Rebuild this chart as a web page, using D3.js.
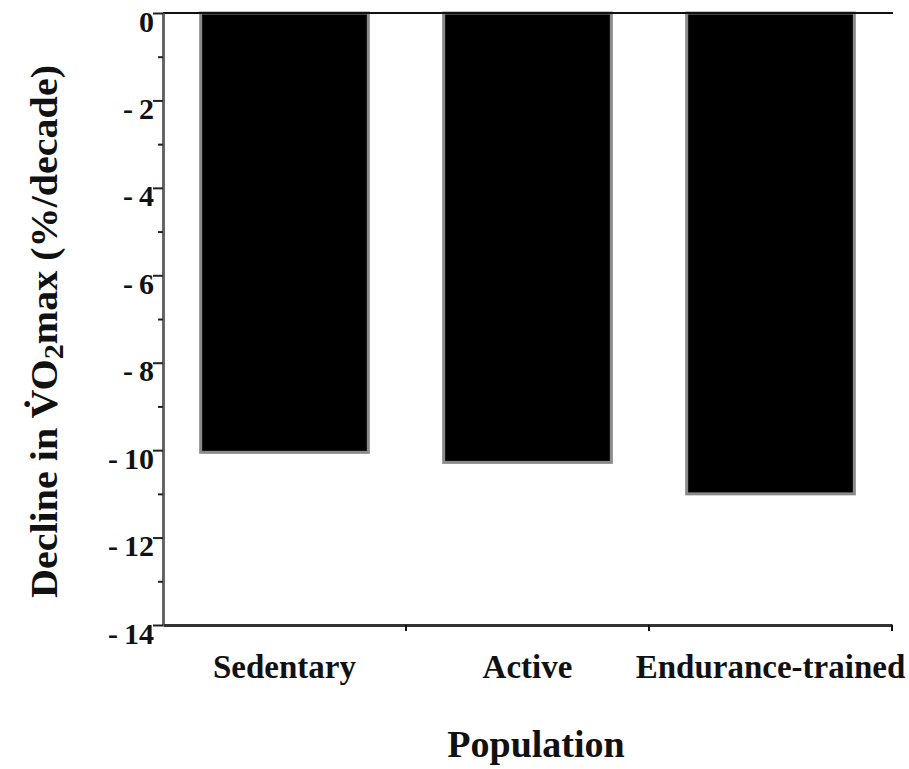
<!DOCTYPE html>
<meta charset="utf-8">
<style>
    body { margin: 0; background: #fff; }
    text { font-family: "Liberation Serif", "Times New Roman", serif; font-weight: bold; }
</style>
<body></body>
<script src="https://d3js.org/d3.v7.min.js"></script>
<script>
    // data
    var categories = ["Sedentary", "Active", "Endurance-trained"];
    var declines = [-10.05, -10.28, -11.0];
    var majorTicks = [0, -2, -4, -6, -8, -10, -12, -14];
    var minorTicks = [-1, -3, -5, -7, -9, -11, -13];

    var data = categories.map(function (c, i) { return { name: c, value: declines[i] }; });

    var width = 909, height = 769;
    var svg = d3.select("body").append("svg")
        .attr("width", width)
        .attr("height", height);

    // plot box
    var plotLeft = 163, plotRight = 892, plotTop = 13, plotBottom = 625;

    var x = d3.scaleBand()
        .domain(categories)
        .range([plotLeft, plotRight])
        .paddingInner(0.31)
        .paddingOuter(0.155);

    var y = d3.scaleLinear()
        .domain([0, -14])
        .range([plotTop, plotBottom]);

    // bars
    svg.selectAll(".bar")
        .data(data)
        .enter().append("rect")
        .attr("class", "bar")
        .attr("x", d => x(d.name))
        .attr("y", y(0))
        .attr("width", x.bandwidth())
        .attr("height", d => y(d.value) - y(0))
        .attr("fill", "#000")
        .attr("stroke", "#8a8a8a")
        .attr("stroke-width", 3);

    // top zero line
    svg.append("line")
        .attr("x1", plotLeft).attr("x2", plotRight + 1)
        .attr("y1", y(0)).attr("y2", y(0))
        .attr("stroke", "#111").attr("stroke-width", 2);

    // y axis, major ticks with labels
    var yAxis = svg.append("g")
        .attr("transform", "translate(" + plotLeft + ",0)")
        .call(d3.axisLeft(y)
            .tickValues(majorTicks)
            .tickSizeInner(10)
            .tickSizeOuter(0)
            .tickPadding(-1)
            .tickFormat(d => d === 0 ? "0" : "-\u2009" + Math.abs(d)));
    yAxis.select(".domain").attr("stroke", "#666").attr("stroke-width", 3);
    yAxis.selectAll(".tick line").attr("stroke", "#222").attr("stroke-width", 2);
    yAxis.selectAll(".tick text")
        .attr("font-size", "30px")
        .attr("font-family", "Liberation Serif, serif")
        .attr("font-weight", "bold")
        .attr("fill", "#111")
        .attr("dy", "0.6em");

    // minor ticks
    svg.append("g")
        .attr("transform", "translate(" + plotLeft + ",0)")
        .call(d3.axisLeft(y).tickValues(minorTicks).tickSizeInner(5).tickSizeOuter(0).tickFormat(""))
        .call(g => g.select(".domain").remove())
        .selectAll(".tick line").attr("stroke", "#222").attr("stroke-width", 2);

    // x axis
    var xAxis = svg.append("g")
        .attr("transform", "translate(0," + plotBottom + ")")
        .call(d3.axisBottom(x).tickSize(0).tickPadding(30));
    xAxis.select(".domain").attr("stroke", "#333").attr("stroke-width", 3);
    xAxis.selectAll(".tick text")
        .attr("font-size", "33px")
        .attr("font-family", "Liberation Serif, serif")
        .attr("font-weight", "bold")
        .attr("fill", "#111")
        .attr("dy", "0.71em");

    // separators between categories on the x axis
    var bounds = categories.map(c => x(c) + x.bandwidth() + x.step() * x.paddingInner() / 2);
    bounds[bounds.length - 1] = plotRight;
    svg.selectAll(".xsep")
        .data(bounds)
        .enter().append("line")
        .attr("x1", d => d).attr("x2", d => d)
        .attr("y1", plotBottom).attr("y2", plotBottom + 6)
        .attr("stroke", "#111").attr("stroke-width", 2);

    // axis titles
    svg.append("text")
        .attr("x", 536)
        .attr("y", 757)
        .attr("text-anchor", "middle")
        .attr("font-size", "38px")
        .attr("fill", "#111")
        .text("Population");

    var ylab = svg.append("text")
        .attr("transform", "translate(57,598) rotate(-90)")
        .attr("font-size", "37px")
        .attr("fill", "#111")
        .attr("textLength", 533)
        .attr("lengthAdjust", "spacingAndGlyphs");
    ylab.append("tspan").text("Decline in  V\u0307O");
    ylab.append("tspan").attr("font-size", "28px").attr("dy", "6").text("2");
    ylab.append("tspan").attr("dy", "-6").text("max  (%/decade)");
</script>
